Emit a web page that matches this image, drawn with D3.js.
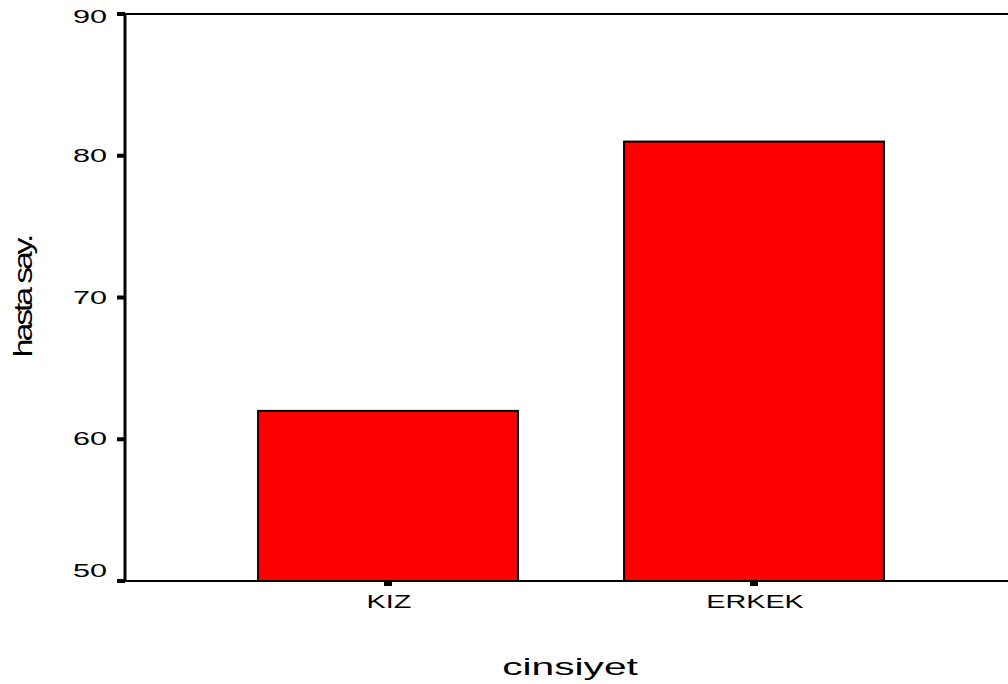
<!DOCTYPE html>
<html>
  <head>
    <meta charset="utf-8" />
    <title>cinsiyet</title>
    <style>
      body { margin: 0; background: #fff; }
      text { font-family: "Liberation Sans", Arial, sans-serif; fill: #000; }
    </style>
  </head>
  <body>
    <div id="chart"></div>
    <script src="https://d3js.org/d3.v7.min.js"></script>
    <script>
      // data
      const categories = ['KIZ', 'ERKEK'];
      const values = [62, 81];
      const yTicks = [50, 60, 70, 80, 90];

      const width = 1008;
      const height = 684;
      const plotLeft = 125, plotTop = 14, plotBottom = 581;

      const svg = d3.select('#chart').append('svg')
        .attr('width', width)
        .attr('height', height);

      const x = d3.scaleBand()
        .domain(categories)
        .range([plotLeft, 1017])
        .paddingInner(0.29)
        .paddingOuter(0.3636);

      const y = d3.scaleLinear()
        .domain([50, 90])
        .range([plotBottom, plotTop]);

      // bars
      svg.selectAll('.bar')
        .data(values)
        .enter()
        .append('rect')
        .attr('class', 'bar')
        .attr('x', (d, i) => x(categories[i]))
        .attr('y', d => y(d))
        .attr('width', x.bandwidth())
        .attr('height', d => y(50) - y(d))
        .attr('fill', '#ff0000')
        .attr('stroke', '#000')
        .attr('stroke-width', 2);

      // frame lines
      svg.append('line')
        .attr('x1', plotLeft).attr('x2', width)
        .attr('y1', plotTop).attr('y2', plotTop)
        .attr('stroke', '#000').attr('stroke-width', 2);
      svg.append('line')
        .attr('x1', plotLeft).attr('x2', width)
        .attr('y1', plotBottom).attr('y2', plotBottom)
        .attr('stroke', '#000').attr('stroke-width', 2);
      svg.append('line')
        .attr('x1', plotLeft).attr('x2', plotLeft)
        .attr('y1', plotTop - 1).attr('y2', plotBottom + 1)
        .attr('stroke', '#000').attr('stroke-width', 3);

      // y ticks
      const yt = svg.append('g');
      yt.selectAll('rect')
        .data(yTicks)
        .enter()
        .append('rect')
        .attr('x', plotLeft - 8)
        .attr('y', d => y(d) - 2)
        .attr('width', 8)
        .attr('height', 4)
        .attr('fill', '#000');
      // end labels are nudged inside, as in the original (text is stretched sideways)
      const labelBase = d => d === 90 ? y(d) + 9 : d === 50 ? y(d) - 4 : y(d) + 6;
      yt.selectAll('text')
        .data(yTicks)
        .enter()
        .append('text')
        .attr('transform', d => `translate(107, ${labelBase(d)}) scale(1.7, 1)`)
        .attr('text-anchor', 'end')
        .style('font-size', '18px')
        .text(d => d);

      // x ticks
      const xt = svg.append('g');
      xt.selectAll('rect')
        .data(categories)
        .enter()
        .append('rect')
        .attr('x', d => x(d) + x.bandwidth() / 2 - 4)
        .attr('y', plotBottom + 1)
        .attr('width', 8)
        .attr('height', 4)
        .attr('fill', '#000');
      xt.selectAll('text')
        .data(categories)
        .enter()
        .append('text')
        .attr('transform', d => `translate(${x(d) + x.bandwidth() / 2 + 1}, 608) scale(1.6, 1)`)
        .attr('text-anchor', 'middle')
        .style('font-size', '18px')
        .text(d => d);

      // axis titles
      svg.append('text')
        .attr('transform', 'translate(570, 675) scale(1.77, 1)')
        .attr('text-anchor', 'middle')
        .style('font-size', '23px')
        .text('cinsiyet');

      svg.append('text')
        .attr('transform', 'translate(32, 297) rotate(-90) scale(1.3, 1)')
        .attr('text-anchor', 'middle')
        .style('font-size', '26px')
        .style('letter-spacing', '-2.4px')
        .text('hasta say.');
    </script>
  </body>
</html>
